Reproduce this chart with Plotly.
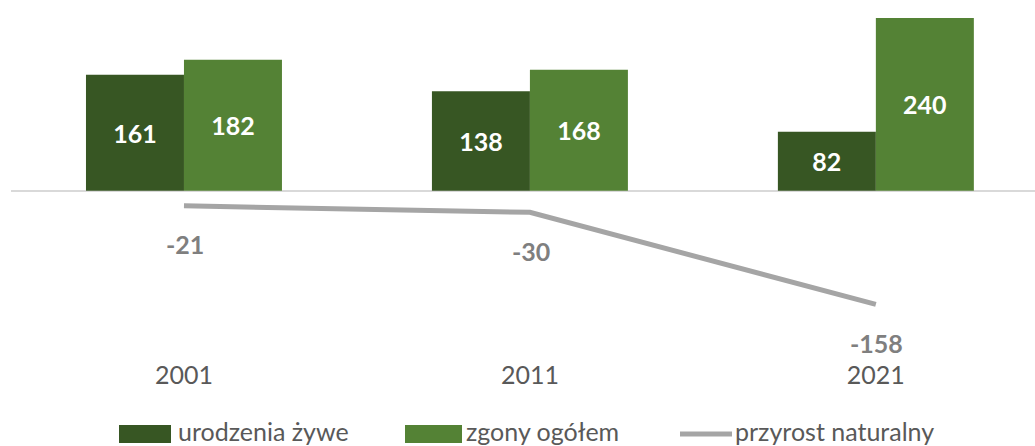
import plotly.graph_objects as go

years = ["2001", "2011", "2021"]
births = [161, 138, 82]
deaths = [182, 168, 240]
natural = [-21, -30, -158]
series_names = ["urodzenia żywe", "zgony ogółem", "przyrost naturalny"]

C_BIRTH = "#375623"
C_DEATH = "#548235"
C_LINE = "#a5a5a5"
C_LABEL = "#7f7f7f"
C_TEXT = "#595959"
FONT = "Lato"

fig = go.Figure()
fig.add_bar(x=years, y=births, name=series_names[0], marker_color=C_BIRTH,
            marker_line_width=0, text=[str(v) for v in births],
            textposition="inside", insidetextanchor="middle",
            textfont=dict(family=FONT, size=25, color="white", weight="bold"),
            showlegend=False)
fig.add_bar(x=years, y=deaths, name=series_names[1], marker_color=C_DEATH,
            marker_line_width=0, text=[str(v) for v in deaths],
            textposition="inside", insidetextanchor="middle",
            textfont=dict(family=FONT, size=25, color="white", weight="bold"),
            showlegend=False)
fig.add_scatter(x=years, y=natural, name=series_names[2], mode="lines",
                line=dict(color=C_LINE, width=5), showlegend=False)

for i, yv in enumerate(natural):
    fig.add_annotation(x=i, y=yv, xref="x", yref="y", text=str(yv),
                       showarrow=False, yshift=-38.5, xshift=1,
                       font=dict(family=FONT, size=25, color=C_LABEL, weight="bold"))

# custom legend (paper coordinates of plot area: x 11..1035 px, y 0..356 px)
PW, PH, L = 1024.0, 356.0, 11.0
def px(x):
    return (x - L) / PW
def py(y):
    return (PH - y) / PH

legend_items = [
    (series_names[0], "rect", C_BIRTH, 119, 171, 176),
    (series_names[1], "rect", C_DEATH, 405, 462, 464),
    (series_names[2], "line", C_LINE, 680, 732, 733),
]
for name, kind, col, x0, x1, tx in legend_items:
    if kind == "rect":
        fig.add_shape(type="rect", xref="paper", yref="paper",
                      x0=px(x0), x1=px(x1), y0=py(443), y1=py(425),
                      fillcolor=col, line_width=0)
    else:
        fig.add_shape(type="line", xref="paper", yref="paper",
                      x0=px(x0), x1=px(x1), y0=py(434), y1=py(434),
                      line=dict(color=col, width=5))
    fig.add_annotation(xref="paper", yref="paper", x=px(tx), y=py(431),
                       xanchor="left", yanchor="middle", text=name,
                       showarrow=False,
                       font=dict(family=FONT, size=25, color=C_TEXT))

fig.update_layout(
    width=1035, height=446,
    margin=dict(l=11, r=0, t=0, b=90),
    paper_bgcolor="white", plot_bgcolor="white",
    barmode="group", bargap=0.4335, bargroupgap=0,
    showlegend=False,
    font=dict(family=FONT, color=C_TEXT),
)
fig.update_xaxes(type="category", range=[-0.5, 2.46], showgrid=False,
                 showline=False, ticks="", ticklabelstandoff=2,
                 tickfont=dict(family=FONT, size=25, color=C_TEXT))
fig.update_yaxes(range=[-229.6, 264.9], showgrid=False, showticklabels=False,
                 zeroline=True, zerolinecolor="#d9d9d9", zerolinewidth=2,
                 showline=False)

fig.write_html("out.html", config={"displayModeBar": False},
               post_script="document.body.style.margin='0';document.body.style.overflow='hidden';")
